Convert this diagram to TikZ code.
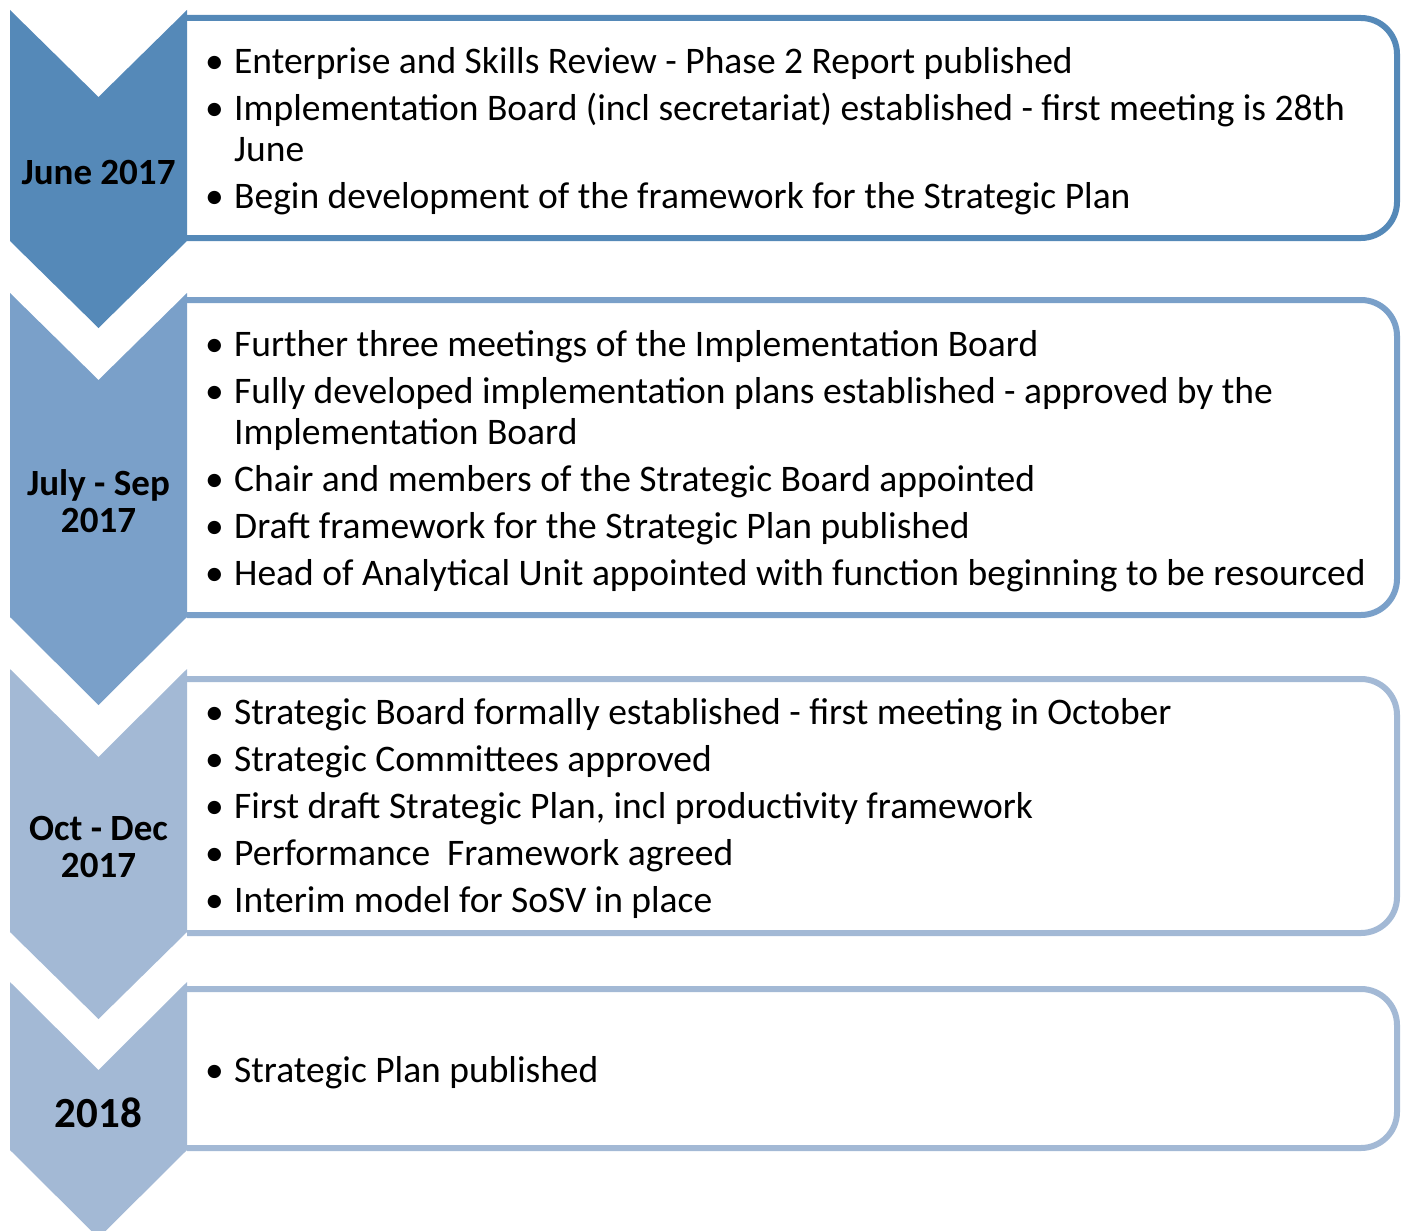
\documentclass[tikz,border=0pt]{standalone}
\usepackage{fontspec}
\setmainfont{Carlito}
\definecolor{cA}{HTML}{5589B8}
\definecolor{cB}{HTML}{7AA0C9}
\definecolor{cC}{HTML}{A3B9D5}
\newcommand\bul{\makebox[27pt][l]{\hspace{-2pt}•}}
\tikzset{
  chev/.style={fill=#1, draw=none},
  tbox/.style={draw=#1, line width=6pt, fill=white, rounded corners=36pt},
  body/.style={anchor=west, inner sep=0pt, font=\fontsize{37.5}{41}\selectfont},
  lbl/.style={inner sep=0pt, font=\fontsize{37}{37.5}\selectfont\bfseries, align=center},
}
\begin{document}
\begin{tikzpicture}[x=1pt,y=-1pt]
\useasboundingbox (0,0) rectangle (1403,1231);
% boxes
\draw[tbox=cA] (187,18) -- (1397,18) -- (1397,238) -- (187,238);
\draw[tbox=cB] (187,300) -- (1397,300) -- (1397,615) -- (187,615);
\draw[tbox=cC] (187,679) -- (1397,679) -- (1397,933) -- (187,933);
\draw[tbox=cC] (187,989) -- (1397,989) -- (1397,1148) -- (187,1148);
% chevrons
\fill[chev=cA] (10,10) -- (98.5,97) -- (187,10) -- (187,241) -- (98.5,328) -- (10,241) -- cycle;
\fill[chev=cB] (10,293) -- (98.5,380) -- (187,293) -- (187,617) -- (98.5,705) -- (10,617) -- cycle;
\fill[chev=cC] (10,669) -- (98.5,757) -- (187,669) -- (187,932) -- (98.5,1019) -- (10,932) -- cycle;
\fill[chev=cC] (10,982) -- (98.5,1070) -- (187,982) -- (187,1150) -- (98.5,1238) -- (10,1150) -- cycle;
% labels
\node[lbl] (l1) at (98.5,173) {June 2017};
\node[lbl] (l2) at (98.5,501) {July - Sep\\2017};
\node[lbl] (l3) at (98.5,847) {Oct - Dec\\2017};
\node[lbl, font=\fontsize{43}{43}\selectfont\bfseries] (l4) at (98.5,1113) {2018};
% texts
\node[body] (t1) at (207,133) {\begin{tabular}{@{}l@{}l@{}}
\bul & Enterprise and Skills Review - Phase 2 Report published\\[6pt]
\bul & Implementation Board (incl secretariat) established - first meeting is 28th\\
 & June\\[6pt]
\bul & Begin development of the framework for the Strategic Plan
\end{tabular}};
\node[body] (t2) at (207,462.5) {\begin{tabular}{@{}l@{}l@{}}
\bul & Further three meetings of the Implementation Board\\[6pt]
\bul & Fully developed implementation plans established - approved by the\\
 & Implementation Board\\[6pt]
\bul & Chair and members of the Strategic Board appointed\\[6pt]
\bul & Draft framework for the Strategic Plan published\\[6pt]
\bul & Head of Analytical Unit appointed with function beginning to be resourced
\end{tabular}};
\node[body] (t3) at (207,810) {\begin{tabular}{@{}l@{}l@{}}
\bul & Strategic Board formally established - first meeting in October\\[6pt]
\bul & Strategic Committees approved\\[6pt]
\bul & First draft Strategic Plan, incl productivity framework\\[6pt]
\bul & Performance\ \ Framework agreed\\[6pt]
\bul & Interim model for SoSV in place
\end{tabular}};
\node[body] (t4) at (207,1074) {\begin{tabular}{@{}l@{}l@{}}
\bul & Strategic Plan published
\end{tabular}};
\end{tikzpicture}
\end{document}
